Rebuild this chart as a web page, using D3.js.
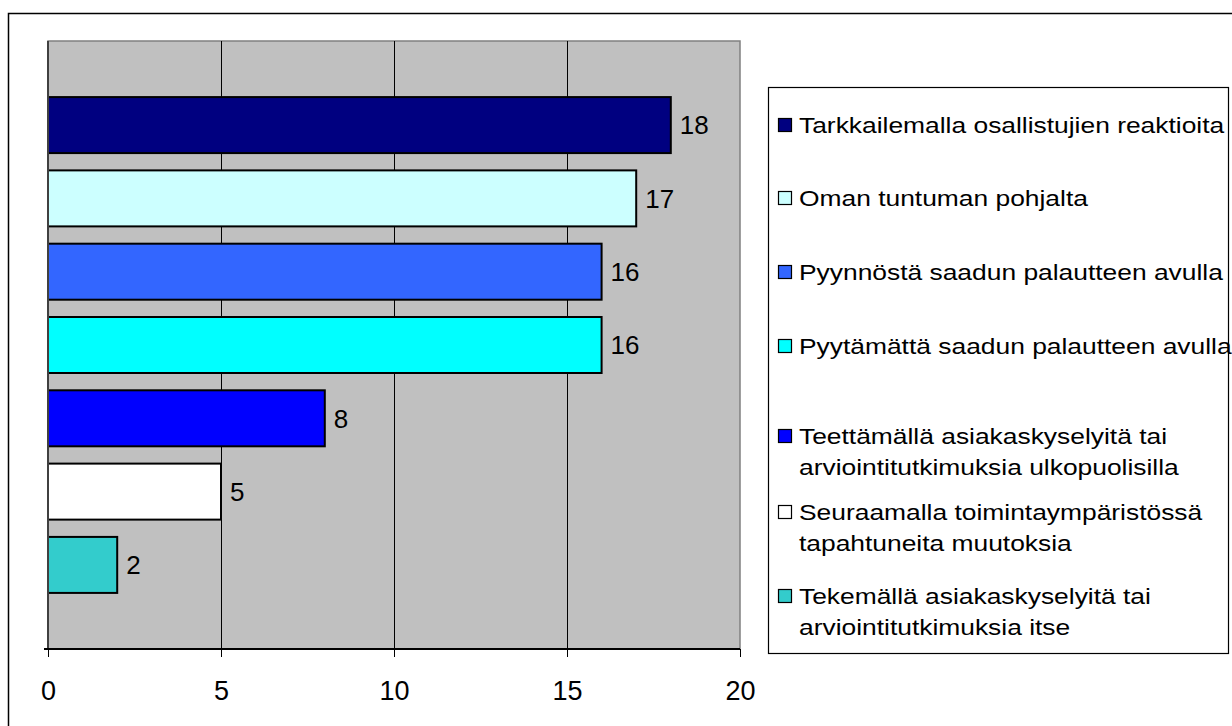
<!DOCTYPE html>
<html lang="fi">
<head>
<meta charset="utf-8">
<title>Palaute</title>
<script src="https://d3js.org/d3.v7.min.js"></script>
<style>
  body { margin: 0; background: #fff; }
  svg { display: block; font-family: "Liberation Sans", Arial, sans-serif; }
</style>
</head>
<body>
<script>
// data
var categories = [
  "Tarkkailemalla osallistujien reaktioita",
  "Oman tuntuman pohjalta",
  "Pyynnöstä saadun palautteen avulla",
  "Pyytämättä saadun palautteen avulla",
  "Teettämällä asiakaskyselyitä tai|arviointitutkimuksia ulkopuolisilla",
  "Seuraamalla toimintaympäristössä|tapahtuneita muutoksia",
  "Tekemällä asiakaskyselyitä tai|arviointitutkimuksia itse"
];
var values = [18, 17, 16, 16, 8, 5, 2];
var colors = ["#000080", "#CCFFFF", "#3366FF", "#00FFFF", "#0000FF", "#FFFFFF", "#33CCCC"];
var ticks = [0, 5, 10, 15, 20];

var width = 1232, height = 726;
var svg = d3.select("body").append("svg")
    .attr("width", width)
    .attr("height", height);

// outer frame
svg.append("rect")
    .attr("x", 8.5).attr("y", 13.5)
    .attr("width", 1240).attr("height", 760)
    .attr("fill", "#fff").attr("stroke", "#000").attr("stroke-width", 1.5);

var plot = {left: 48, top: 41, right: 740, bottom: 649};

var x = d3.scaleLinear().domain([0, 20]).range([plot.left, plot.right]);
var y = d3.scaleBand().domain(d3.range(categories.length))
    .range([plot.top, plot.bottom])
    .paddingInner(0.236).paddingOuter(0.765);

svg.append("rect")
    .attr("x", plot.left).attr("y", plot.top)
    .attr("width", plot.right - plot.left).attr("height", plot.bottom - plot.top)
    .attr("fill", "#C0C0C0").attr("stroke", "#808080").attr("stroke-width", 1.5);

// gridlines
svg.append("g").selectAll("line")
  .data(ticks.slice(1, -1))
  .enter().append("line")
    .attr("x1", function(d) { return Math.round(x(d)) + 0.5; })
    .attr("x2", function(d) { return Math.round(x(d)) + 0.5; })
    .attr("y1", plot.top).attr("y2", plot.bottom)
    .attr("stroke", "#000").attr("stroke-width", 1);

// bars
svg.append("g").selectAll("rect")
  .data(values)
  .enter().append("rect")
    .attr("x", x(0))
    .attr("y", function(d, i) { return y(i); })
    .attr("width", function(d) { return x(d) - x(0); })
    .attr("height", y.bandwidth())
    .attr("fill", function(d, i) { return colors[i]; })
    .attr("stroke", "#000").attr("stroke-width", 2);

// value labels
svg.append("g").selectAll("text")
  .data(values)
  .enter().append("text")
    .attr("x", function(d) { return x(d) + 9; })
    .attr("y", function(d, i) { return y(i) + y.bandwidth() / 2; })
    .attr("dy", "0.36em")
    .style("font-size", "26px")
    .text(function(d) { return d; });

// y axis line
svg.append("line")
    .attr("x1", plot.left).attr("x2", plot.left)
    .attr("y1", plot.top).attr("y2", plot.bottom)
    .attr("stroke", "#404040").attr("stroke-width", 2);

// x axis
var xAxis = svg.append("g")
    .attr("transform", "translate(0," + plot.bottom + ")")
    .call(d3.axisBottom(x).tickValues(ticks).tickSize(8).tickSizeOuter(0));
xAxis.select(".domain").remove();
xAxis.append("line")
    .attr("x1", plot.left - 4).attr("x2", plot.right)
    .attr("stroke", "#000").attr("stroke-width", 2);
xAxis.selectAll(".tick line").attr("stroke", "#000");
xAxis.selectAll(".tick text")
    .attr("y", 41).attr("dy", "0.36em")
    .attr("fill", "#000")
    .style("font-size", "27px")
    .style("font-family", "'Liberation Sans', Arial, sans-serif");

// legend
var legend = svg.append("g");
legend.append("rect")
    .attr("x", 768.5).attr("y", 87.5)
    .attr("width", 460).attr("height", 566)
    .attr("fill", "#fff").attr("stroke", "#000").attr("stroke-width", 1.2);

var legendY = [125, 198, 272, 346, 436, 512, 596];
var item = legend.selectAll("g.item")
  .data(categories)
  .enter().append("g")
    .attr("class", "item")
    .attr("transform", function(d, i) { return "translate(778," + legendY[i] + ")"; });

item.append("rect")
    .attr("x", 0.5).attr("y", -6.5)
    .attr("width", 13).attr("height", 13)
    .attr("fill", function(d, i) { return colors[i]; })
    .attr("stroke", "#000").attr("stroke-width", 1.2);

// legend text is a little wider than plain Arial in the original
item.append("text")
    .attr("transform", "translate(21,0) scale(1.2,1)")
    .style("font-size", "22px")
    .selectAll("tspan")
    .data(function(d) { return d.split("|"); })
    .enter().append("tspan")
      .attr("x", 0)
      .attr("y", function(d, j) { return j * 31; })
      .attr("dy", "0.36em")
      .text(function(d) { return d; });
</script>
</body>
</html>
